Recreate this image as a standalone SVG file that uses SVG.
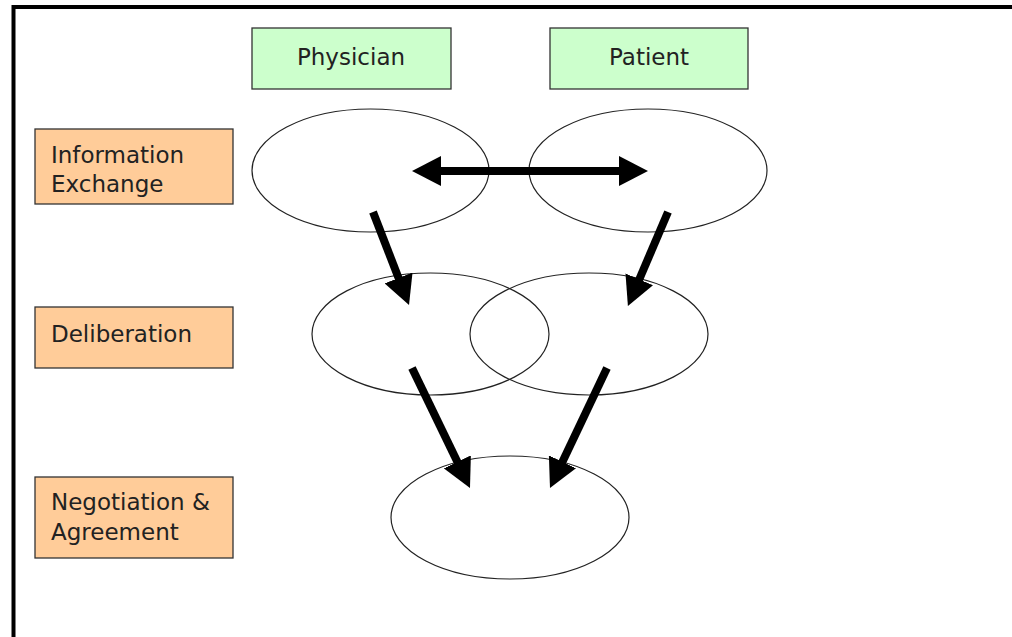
<svg xmlns="http://www.w3.org/2000/svg" width="1012" height="637" viewBox="0 0 1012 637">
<style>
.actor{fill:#ccffcc;stroke:#333;stroke-width:1.3}
.phase{fill:#ffcc99;stroke:#333;stroke-width:1.3}
.lbl{font-family:"DejaVu Sans",sans-serif;font-size:23px;fill:#222}
.ell{fill:none;stroke:#222;stroke-width:1.2}
.arr{stroke:#000;stroke-width:8;fill:none}
</style>
<defs>
<marker id="ah" markerUnits="userSpaceOnUse" markerWidth="29" markerHeight="30" viewBox="0 0 29 30" refX="1" refY="15" orient="auto-start-reverse">
<path d="M0,0 L29,15 L0,30 Z" fill="#000"/>
</marker>
</defs>
<rect width="1012" height="637" fill="#fff"/>
<path d="M13.5,640 V7 H1012" fill="none" stroke="#000" stroke-width="4"/>
<g id="physician"><rect class="actor" x="252" y="28" width="199" height="61"/><text class="lbl" x="351" y="65" text-anchor="middle">Physician</text></g>
<g id="patient"><rect class="actor" x="550" y="28" width="198" height="61"/><text class="lbl" x="649" y="65" text-anchor="middle">Patient</text></g>
<g id="info-exchange"><rect class="phase" x="35" y="129" width="198" height="75"/><text class="lbl" x="51" y="163">Information</text><text class="lbl" x="51" y="192">Exchange</text></g>
<g id="deliberation"><rect class="phase" x="35" y="307" width="198" height="61"/><text class="lbl" x="51" y="342">Deliberation</text></g>
<g id="negotiation"><rect class="phase" x="35" y="477" width="198" height="81"/><text class="lbl" x="51" y="510">Negotiation &amp;</text><text class="lbl" x="51" y="540">Agreement</text></g>
<g id="phys-info"><ellipse class="ell" cx="370.5" cy="170.5" rx="118.5" ry="61.5"/></g>
<g id="pat-info"><ellipse class="ell" cx="648" cy="170.5" rx="119" ry="61.5"/></g>
<g id="phys-delib"><ellipse class="ell" cx="430.5" cy="334" rx="118.5" ry="61"/></g>
<g id="pat-delib"><ellipse class="ell" cx="589" cy="334" rx="119" ry="61"/></g>
<g id="agreement"><ellipse class="ell" cx="510" cy="517.5" rx="119" ry="61.5"/></g>
<g id="connectors">
<line class="arr" x1="440" y1="171" x2="620" y2="171" marker-start="url(#ah)" marker-end="url(#ah)"/>
<line class="arr" x1="373" y1="212" x2="398.9" y2="278.9" marker-end="url(#ah)"/>
<line class="arr" x1="668" y1="212" x2="638.9" y2="280.2" marker-end="url(#ah)"/>
<line class="arr" x1="412" y1="368" x2="457.8" y2="462.8" marker-end="url(#ah)"/>
<line class="arr" x1="607" y1="368" x2="562" y2="462.7" marker-end="url(#ah)"/>
</g>
</svg>
